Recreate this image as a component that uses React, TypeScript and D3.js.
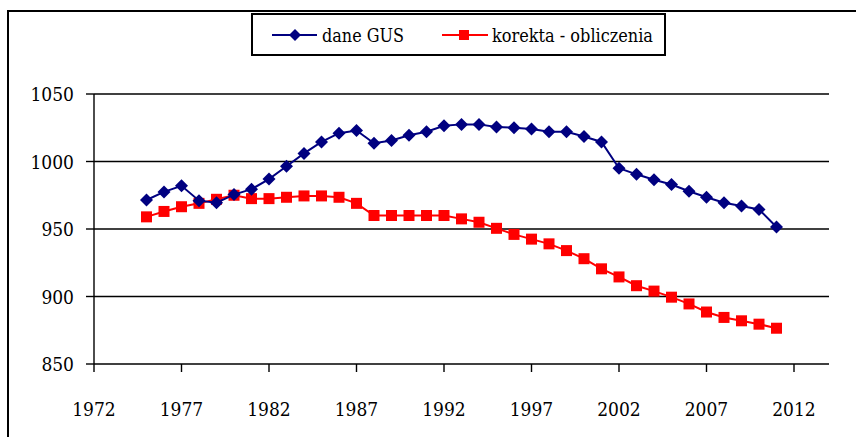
import React from "react";
import * as d3 from "d3";

const years = d3.range(1975, 2012);
const gus = [
  971.5, 977.5, 982, 971, 969.5, 975.5, 979.5, 987, 996.5, 1006,
  1014.5, 1021, 1023, 1013.5, 1015.5, 1019.5, 1022, 1026.5, 1027.5, 1027.5,
  1025.5, 1025, 1024, 1022, 1022, 1018.5, 1014.5, 995, 990.5, 986.5,
  983, 978, 973.5, 969.5, 967, 964.5, 951.5,
];
const korekta = [
  959, 963, 966.5, 969, 972, 975, 972.5, 972.5, 973.5, 974.5,
  974.5, 973.5, 969, 960, 960, 960, 960, 960, 957.5, 955,
  950.5, 946, 942.5, 939, 934, 928, 920.5, 914.5, 908, 904,
  899.5, 894.5, 888.5, 884.5, 882, 879.5, 876.5,
];
const xTicks = [1972, 1977, 1982, 1987, 1992, 1997, 2002, 2007, 2012];
const yTicks = [850, 900, 950, 1000, 1050];
const seriesNames = ["dane GUS", "korekta - obliczenia"];

const W = 856;
const H = 437;
const FONT = '"DejaVu Serif Condensed", "DejaVu Serif", serif';
const BLUE = "#000080";
const RED = "#FF0000";
const txt = { fontFamily: FONT, fill: "#000", fontStretch: "condensed" } as React.CSSProperties;

export default function App() {
  const x = d3.scaleLinear().domain([1972, 2014]).range([94, 829]);
  const y = d3.scaleLinear().domain([850, 1050]).range([364, 94]);
  const line = d3
    .line<number>()
    .x((_, i) => x(years[i]))
    .y((d) => y(d));

  const diamond = (cx: number, cy: number, r = 6.5) =>
    `M${cx},${cy - r}L${cx + r},${cy}L${cx},${cy + r}L${cx - r},${cy}Z`;

  return (
    <svg
      width={W}
      height={H}
      style={{ position: "absolute", left: 0, top: 0, background: "#fff", fontFamily: FONT }}
    >
      <rect x={0} y={0} width={W} height={H} fill="#fff" />
      <rect x={8} y={11} width={900} height={600} fill="none" stroke="#000" strokeWidth={2} />

      {yTicks.map((t) => (
        <g key={t}>
          <line x1={94} x2={829} y1={y(t)} y2={y(t)} stroke="#000" strokeWidth={1.4} />
          <line x1={86} x2={94} y1={y(t)} y2={y(t)} stroke="#000" strokeWidth={1.4} />
          <text x={74} y={y(t) + 7} textAnchor="end" fontSize={19} style={txt}>
            {t}
          </text>
        </g>
      ))}
      <line x1={94} x2={94} y1={94} y2={364} stroke="#000" strokeWidth={1.4} />
      {xTicks.map((t) => (
        <g key={t}>
          <line x1={x(t)} x2={x(t)} y1={364} y2={372} stroke="#000" strokeWidth={1.4} />
          <text x={x(t)} y={416} textAnchor="middle" fontSize={19} style={txt}>
            {t}
          </text>
        </g>
      ))}

      <path d={line(korekta) || ""} fill="none" stroke={RED} strokeWidth={2} />
      {korekta.map((v, i) => (
        <rect key={i} x={x(years[i]) - 5.5} y={y(v) - 5.5} width={11} height={11} fill={RED} />
      ))}
      <path d={line(gus) || ""} fill="none" stroke={BLUE} strokeWidth={2} />
      {gus.map((v, i) => (
        <path key={i} d={diamond(x(years[i]), y(v))} fill={BLUE} />
      ))}

      <rect x={252} y={14} width={413} height={41} fill="#fff" stroke="#000" strokeWidth={2} />
      <line x1={272} x2={317} y1={35} y2={35} stroke={BLUE} strokeWidth={2} />
      <path d={diamond(295, 35, 6)} fill={BLUE} />
      <text x={322} y={42} fontSize={19} style={txt} textLength={82} lengthAdjust="spacingAndGlyphs">
        {seriesNames[0]}
      </text>
      <line x1={442} x2={488} y1={35} y2={35} stroke={RED} strokeWidth={2} />
      <rect x={459} y={30} width={10} height={10} fill={RED} />
      <text x={492} y={42} fontSize={19} style={txt} textLength={161} lengthAdjust="spacingAndGlyphs">
        {seriesNames[1]}
      </text>
    </svg>
  );
}
